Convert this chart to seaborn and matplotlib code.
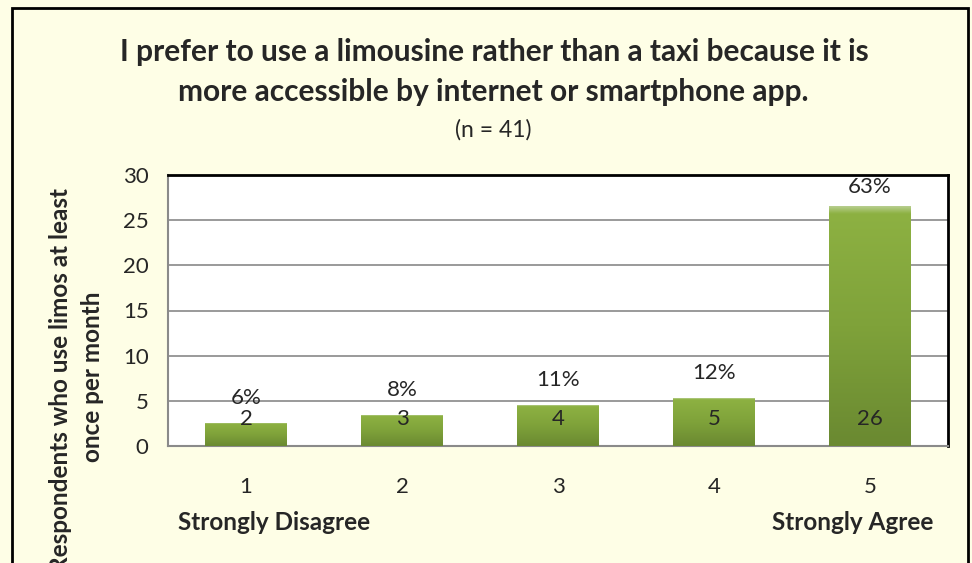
import numpy as np
import pandas as pd
import matplotlib
matplotlib.use("Agg")
import matplotlib.pyplot as plt
from matplotlib.colors import LinearSegmentedColormap
from matplotlib.patches import Rectangle
import seaborn as sns

# dados
categorias = ["1", "2", "3", "4", "5"]
contagens = ["2", "3", "4", "5", "26"]
alturas = [2.5, 3.4, 4.5, 5.3, 26.5]
percentuais = ["6%", "8%", "11%", "12%", "63%"]
yticks = [0, 5, 10, 15, 20, 25, 30]

titulo_l1 = "I prefer to use a limousine rather than a taxi because it is"
titulo_l2 = "more accessible by internet or smartphone app."
subtitulo = "(n = 41)"
ylabel_l1 = "Respondents who use limos at least"
ylabel_l2 = "once per month"

FUNDO = "#FEFEE6"

sns.set_theme(style="white")
plt.rcParams["font.family"] = ["Lato", "DejaVu Sans"]

df = pd.DataFrame({"categoria": categorias, "altura": alturas})

fig = plt.figure(figsize=(9.72, 5.63), dpi=100, facecolor=FUNDO)
ax = fig.add_axes([168 / 972, 1 - 446 / 563, 780 / 972, 271 / 563])
ax.set_facecolor("white")

sns.barplot(data=df, x="categoria", y="altura", color="#7FA03A",
            width=0.52, ax=ax, zorder=3)

# gradiente verde nas barras
cmap = LinearSegmentedColormap.from_list(
    "verde", [(0.0, "#B6CD8C"), (0.03, "#8DB142"), (0.5, "#7FA23A"), (1.0, "#6A8931")])
grad = np.linspace(0, 1, 256).reshape(-1, 1)
for p in ax.patches:
    x0, y0 = p.get_x(), p.get_y()
    w, h = p.get_width(), p.get_height()
    ax.imshow(grad, extent=[x0, x0 + w, y0, y0 + h], origin="upper",
              aspect="auto", cmap=cmap, zorder=4)
    p.set_alpha(0)

ymax = yticks[-1]
for i, (h, c, pc) in enumerate(zip(alturas, contagens, percentuais)):
    ax.annotate(c, (i, 0), xytext=(0, 19.5), textcoords="offset points",
                ha="center", va="center", fontsize=16, zorder=6)
    # rotulo de % acima da barra, sem passar do topo do grafico
    ax.text(i, min(h + 2.8, ymax - 1.3), pc, ha="center", va="center",
            fontsize=16, zorder=6)

ax.set_xlim(-0.5, 4.5)
ax.set_ylim(0, ymax)
ax.set_yticks(yticks)
ax.yaxis.grid(True, color="#9A9A9A", linewidth=1.4, zorder=1)
ax.set_axisbelow(True)
ax.set_xlabel("")
ax.set_ylabel("")
ax.tick_params(axis="y", labelsize=16, length=0, pad=14)
ax.tick_params(axis="x", which="major", labelsize=16, length=0, pad=22)
ax.set_xticks(np.arange(-0.5, 5, 1), minor=True)
ax.tick_params(axis="x", which="minor", length=8, width=1.2, color="#8A8A8A",
               direction="out")

for lado in ["left", "bottom"]:
    ax.spines[lado].set_color("#8A8A8A")
    ax.spines[lado].set_linewidth(1.5)
for lado in ["top", "right"]:
    ax.spines[lado].set_color("black")
    ax.spines[lado].set_linewidth(2)

fig.text(494 / 972, 1 - 52 / 563, titulo_l1, ha="center", va="center",
         fontsize=21.5, fontweight="bold")
fig.text(493 / 972, 1 - 92 / 563, titulo_l2, ha="center", va="center",
         fontsize=21.5, fontweight="bold")
fig.text(493 / 972, 1 - 130 / 563, subtitulo, ha="center", va="center",
         fontsize=16.5)
fig.text(60 / 972, 1 - 380 / 563, ylabel_l1, ha="center", va="center",
         rotation=90, fontsize=17.5, fontweight="bold")
fig.text(93 / 972, 1 - 377 / 563, ylabel_l2, ha="center", va="center",
         rotation=90, fontsize=17.5, fontweight="bold")

fig.text(178 / 972, 1 - 522 / 563, "Strongly Disagree", ha="left",
         va="center", fontsize=17.5, fontweight="bold")
fig.text(933 / 972, 1 - 522 / 563, "Strongly Agree", ha="right",
         va="center", fontsize=17.5, fontweight="bold")

# moldura do grafico
fig.patches.append(Rectangle((12 / 972, -0.1), 956 / 972, 1.1 - 8 / 563,
                             transform=fig.transFigure, fill=False,
                             edgecolor="black", linewidth=2))

fig.savefig("out.png", dpi=100, facecolor=FUNDO)
